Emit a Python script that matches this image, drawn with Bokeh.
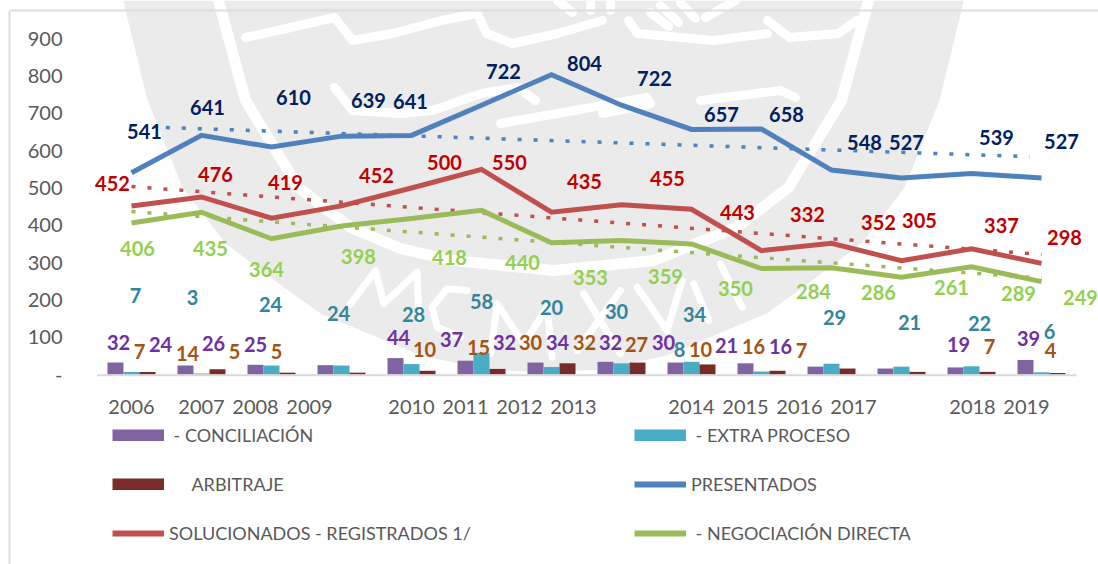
from bokeh.embed import file_html
from bokeh.resources import INLINE
from bokeh.plotting import figure
from bokeh.models import (ColumnDataSource, Range1d, FixedTicker, Legend, LegendItem,
                          LinearAxis)
from bokeh.core.properties import value

# ---------- data ----------
YEARS = list(range(14))
YEAR_LABELS = ["2006","2007","2008","2009","2010","2011","2012","2013","2014","2015","2016","2017","2018","2019"]
PRESENTADOS = [541,641,610,639,641,722,804,722,657,658,548,527,539,527]
SOLUCIONADOS = [452,476,419,452,500,550,435,455,443,332,352,305,337,298]
NEGOCIACION = [406,435,364,398,418,440,353,359,350,284,286,261,289,249]
CONCILIACION = [32,24,26,25,44,37,32,34,32,30,21,16,19,39]
EXTRA_PROCESO = [7,3,24,24,28,58,20,30,34,8,29,21,22,6]
ARBITRAJE = [7,14,5,5,10,15,30,32,27,10,16,7,7,4]
TREND_BLUE_X, TREND_BLUE = [0.49,12.83],[662,584]
TREND_RED_X, TREND_RED = [0.0,13.0],[504,322]
TREND_GREEN_X, TREND_GREEN = [0.0,13.0],[437,258]
Y_TICKS = [0,100,200,300,400,500,600,700,800,900]

# ---------- layout (picture pixels) ----------
W, H = 1098, 564
X0, DX = 131.0, 70.0
Y0, DY = 374.0, 0.373
TICK_PX = [131,201,255,309,411,465,519,573,691,745,799,853,972,1026]

POS_BLUE = [(144,131),(207,107),(293,97),(368,100),(410,101),(503,71),(584,63),(654,78),(721,114),(786,114),(864,142),(906,142),(996,137),(1061,141)]
POS_RED = [(112,183),(215,174),(285,182),(376,175),(444,162),(509,162),(584,181),(667,178),(737,212),(807,214),(878,222),(919,220),(1001,225),(1064,237)]
POS_GREEN = [(137,248),(210,248),(266,269),(358,256),(449,257),(522,262),(590,277),(665,276),(735,288),(813,291),(878,292),(951,287),(1018,293),(1080,297)]
POS_TEAL = [(135,295),(192,297),(270,304),(338,313),(413,314),(481,301),(551,307),(616,311),(694,314),(679,349),(834,317),(909,322),(979,323),(1049,331)]
POS_PURPLE = [(118,342),(160,344),(213,343),(255,344),(398,337),(451,339),(504,342),(557,342),(610,342),(663,342),(726,345),(780,346),(958,344),(1028,338)]
POS_ORANGE = [(139,351),(187,353),(234,351),(276,351),(424,349),(478,347),(530,342),(584,342),(636,344),(700,349),(753,346),(801,350),(989,346),(1050,350)]

p = figure(width=W, height=H, output_backend="svg", toolbar_location=None,
           x_range=Range1d((0-X0)/DX, (W-X0)/DX),
           y_range=Range1d((Y0-H)/DY, (Y0-0)/DY),
           x_axis_location=None, y_axis_location=None,
           min_border=0, background_fill_color="white", border_fill_color="white", outline_line_color=None)
p.xgrid.visible = False
p.ygrid.visible = False
p.extra_x_ranges["px"] = Range1d(0, W)
p.extra_y_ranges["px"] = Range1d(H, 0)

# ---------- watermark ----------
WM = "#ebebeb"
wm_left = [(123,0),(125,10),(147,100),(182,187),(225,243),(281,285),(320,313),(420,355),(487,369),(543,372)]
wm = wm_left + [(1086-x,y) for x,y in reversed(wm_left[:-1])]
p.patch([a for a,b in wm],[b for a,b in wm], fill_color=WM, line_color=None, x_range_name="px", y_range_name="px")

def zoomed(points):  # letters traced on a 3x crop taken at (320,240)
    return [(320+a/3, 240+b/3) for a,b in points]

thick = [
    [(218,0),(245,100),(298,187),(350,227),(400,248),(453,260),(553,270),(653,260),(736,227),(788,187),(841,100),(868,0)],
]
ribbons = [
    [(245,37),(290,27),(334,17),(352,40),(392,33),(441,20),(477,13),(486,33),(512,43),(557,33),(602,20)],
    [(628,20),(637,33),(713,40),(767,33)],
    [(767,20),(789,37),(838,33),(856,20)],
    [(334,87),(352,110),(400,113),(432,110),(481,93),(517,87),(535,100)],
    [(500,123),(557,113),(646,97),(650,103),(602,113)],
    [(700,100),(780,90),(795,97)],
    [(557,0),(572,12)],[(590,0),(590,10)],[(610,0),(610,10)],[(650,12),(668,26)],[(660,5),(678,22)],[(680,2),(695,18)],
    [(705,17),(735,0)],
]
letters = [zoomed(s) for s in [
    [(90,190),(165,90),(190,190),(290,95),(295,235)],
    [(440,150),(380,145),(335,200),(350,260),(420,290)],
    [(510,340),(530,190),(610,310),(680,200),(695,350)],
    [(790,160),(900,340)],[(900,150),(770,330)],
    [(950,140),(1040,270),(1085,120)],
    [(1120,130),(1165,240)],
    [(1200,70),(1265,200)],
]]
for group, width in [(thick,11),(ribbons,9),(letters,7)]:
    p.multi_line([[a for a,b in s] for s in group],[[b for a,b in s] for s in group],
                 line_color="white", line_width=width, line_cap="round", line_join="round",
                 x_range_name="px", y_range_name="px")

# frame of the pasted picture
p.line([9,9],[11,H], line_color="#dedede", line_width=2, x_range_name="px", y_range_name="px")
p.line([9,W],[10,10], line_color="#dedede", line_width=2, x_range_name="px", y_range_name="px")

# ---------- bars ----------
BW = 16/DX
PUR, TEA, ARB = "#8064A2", "#4BACC6", "#772C2A"
p.vbar(x=[i-BW for i in YEARS], top=CONCILIACION, width=BW, bottom=0, fill_color=PUR, line_color=None)
p.vbar(x=YEARS, top=EXTRA_PROCESO, width=BW, bottom=0, fill_color=TEA, line_color=None)
p.vbar(x=[i+BW for i in YEARS], top=ARBITRAJE, width=BW, bottom=0, fill_color=ARB, line_color=None)

# baseline
p.line([(96.5-X0)/DX,(1076-X0)/DX],[-2,-2], line_color="#d9d9d9", line_width=2)

# ---------- trends + lines ----------
BLUE, RED, GREEN = "#4F81BD", "#C0504D", "#9BBB59"
for xs, ys, c in [(TREND_BLUE_X,TREND_BLUE,BLUE),(TREND_RED_X,TREND_RED,RED),(TREND_GREEN_X,TREND_GREEN,GREEN)]:
    p.line(xs, ys, line_color=c, line_width=3.5, line_dash="4 12")
p.line(YEARS, PRESENTADOS, line_color=BLUE, line_width=5, line_join="miter")
p.line(YEARS, SOLUCIONADOS, line_color=RED, line_width=5, line_join="miter")
p.line(YEARS, NEGOCIACION, line_color=GREEN, line_width=5, line_join="miter")

# ---------- data labels ----------
def labels(vals, base, pos, color):
    src = ColumnDataSource(dict(
        x=YEARS, y=base, t=[str(v) for v in vals],
        dx=[q[0]-(X0+DX*i) for i,q in enumerate(pos)],
        dy=[q[1]-(Y0-DY*b) for q,b in zip(pos,base)]))
    p.text(x="x", y="y", text="t", x_offset="dx", y_offset="dy", source=src, text_color=color,
           text_align="center", text_baseline="middle", text_font=value("Lato"),
           text_font_size="20px", text_font_style="bold")

labels(PRESENTADOS, PRESENTADOS, POS_BLUE, "#002060")
labels(SOLUCIONADOS, SOLUCIONADOS, POS_RED, "#C00000")
labels(NEGOCIACION, NEGOCIACION, POS_GREEN, "#92D050")
labels(EXTRA_PROCESO, EXTRA_PROCESO, POS_TEAL, "#31859C")
labels(CONCILIACION, CONCILIACION, POS_PURPLE, "#7030A0")
labels(ARBITRAJE, ARBITRAJE, POS_ORANGE, "#A5540F")

# ---------- axes ----------
TXT = "#595959"
ya = LinearAxis(fixed_location=(96-X0)/DX, ticker=FixedTicker(ticks=Y_TICKS),
                major_label_overrides={0: "-"}, axis_line_color=None,
                major_tick_line_color=None, minor_tick_line_color=None, major_label_standoff=28,
                major_label_text_font="Lato", major_label_text_font_size="20px", major_label_text_color=TXT)
p.add_layout(ya, "left")
tick_pos = [(t-X0)/DX for t in TICK_PX]
xa = LinearAxis(fixed_location=0, ticker=FixedTicker(ticks=tick_pos),
                major_label_overrides=dict(zip(tick_pos, YEAR_LABELS)), axis_line_color=None,
                major_tick_line_color=None, minor_tick_line_color=None, major_label_standoff=19,
                major_label_text_font="Lato", major_label_text_font_size="20px", major_label_text_color=TXT)
p.add_layout(xa, "below")

# ---------- legend (keys: thick lines without a visible point, so they fill the 52 x 12 swatch) ----------
NAN = float("nan")
def key(color, width):
    return p.line([NAN, NAN], [NAN, NAN], line_color=color, line_width=width)

legend = Legend(items=[
    LegendItem(label="\u00a0- CONCILIACIÓN", renderers=[key(PUR,12)]),
    LegendItem(label="\u00a0\u00a0\u00a0\u00a0\u00a0ARBITRAJE", renderers=[key(ARB,12)]),
    LegendItem(label="SOLUCIONADOS - REGISTRADOS 1/", renderers=[key(RED,6)]),
    LegendItem(label="\u00a0- EXTRA PROCESO", renderers=[key(TEA,12)]),
    LegendItem(label="PRESENTADOS", renderers=[key(BLUE,6)]),
    LegendItem(label="\u00a0- NEGOCIACIÓN DIRECTA", renderers=[key(GREEN,6)]),
], ncols=2, location=(112, 20), background_fill_alpha=0, border_line_color=None,
   glyph_width=52, glyph_height=12, label_width=438, label_standoff=5, spacing=27, margin=0, padding=0,
   label_text_font="Lato", label_text_font_size="18px", label_text_color=TXT, label_height=20)
p.add_layout(legend, "center")

open("out.html", "w").write(file_html(p, INLINE))
